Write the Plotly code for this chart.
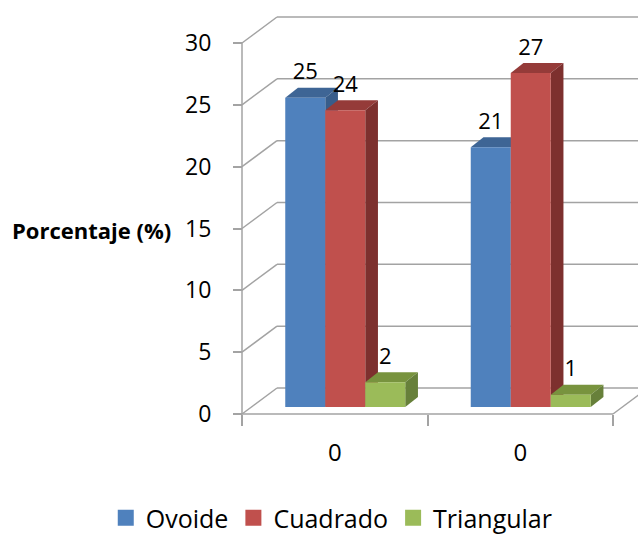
import plotly.graph_objects as go

# ---------------- data ----------------
categories = ["0", "0"]
series_names = ["Ovoide", "Cuadrado", "Triangular"]
ovoide = [25, 21]
cuadrado = [24, 27]
triangular = [2, 1]
y_ticks = [0, 5, 10, 15, 20, 25, 30]
y_title = "Porcentaje (%)"

series_values = [ovoide, cuadrado, triangular]

# ---------------- style ----------------
front_colors = ["#4F81BD", "#C0504D", "#9BBB59"]
top_colors = ["#3E6595", "#953B39", "#78933E"]
side_colors = ["#385D8A", "#7D302E", "#67803A"]
grid_color = "#A3A3A3"
FONT = "Open Sans"

W, H = 638, 541
x0px, cat_px = 242.0, 185.5          # front axis left edge, pixels per category
y0px, unit_px = 414.0, 371.0 / 30.0  # front axis zero, pixels per unit
wall_dx, wall_dy = 35.0, 26.0        # depth of the back wall (px)
plane_dx, plane_dy = 10.5, 7.0       # bars' front plane offset (px)
bar_dx, bar_dy = 12.7, 10.0          # bar depth (px)
bar_w_px = 40.0
label_gap_px = 24.0

# axis ranges so that the subplot covers the whole figure
xr = [-0.5 - x0px / cat_px, -0.5 + (W - x0px) / cat_px]
yr = [-(H - y0px) / unit_px, y0px / unit_px]
sx, sy = plane_dx / cat_px, plane_dy / unit_px
xr2 = [xr[0] - sx, xr[1] - sx]
yr2 = [yr[0] - sy, yr[1] - sy]

wdx, wdy = wall_dx / cat_px, wall_dy / unit_px
bdx, bdy = bar_dx / cat_px, bar_dy / unit_px
bw = bar_w_px / cat_px
ncat = len(categories)
xs = list(range(ncat))

fig = go.Figure()

# ---------------- wall / floor lines ----------------
shapes = []
line = dict(color=grid_color, width=1.5)
for v in y_ticks:
    shapes.append(dict(type="line", xref="x", yref="y", x0=-0.5, y0=v,
                       x1=-0.5 + wdx, y1=v + wdy, line=line, layer="below"))
    shapes.append(dict(type="line", xref="x", yref="y", x0=-0.5 + wdx, y0=v + wdy,
                       x1=xr[1] + 1, y1=v + wdy, line=line, layer="below"))
shapes.append(dict(type="line", xref="x", yref="y", x0=-0.5, y0=0, x1=-0.5, y1=y_ticks[-1],
                   line=line, layer="below"))
shapes.append(dict(type="line", xref="x", yref="y", x0=-0.5, y0=0, x1=ncat - 0.5, y1=0,
                   line=line, layer="below"))
shapes.append(dict(type="line", xref="x", yref="y", x0=ncat - 0.5, y0=0,
                   x1=ncat - 0.5 + wdx, y1=wdy, line=line, layer="below"))

# ---------------- bar faces (tops and sides) ----------------
def fmt(a, b):
    return f"{a:.5f},{b:.5f}"

for c in xs:
    for i, vals in enumerate(series_values):
        v = vals[c]
        xl = c - 1.5 * bw + i * bw
        xrr = xl + bw
        top = ("M" + fmt(xl, v) + " L" + fmt(xrr, v) + " L" + fmt(xrr + bdx, v + bdy)
               + " L" + fmt(xl + bdx, v + bdy) + " Z")
        side = ("M" + fmt(xrr, 0) + " L" + fmt(xrr + bdx, bdy) + " L" + fmt(xrr + bdx, v + bdy)
                + " L" + fmt(xrr, v) + " Z")
        shapes.append(dict(type="path", xref="x2", yref="y2", path=top,
                           fillcolor=top_colors[i], line=dict(width=0), layer="below"))
        shapes.append(dict(type="path", xref="x2", yref="y2", path=side,
                           fillcolor=side_colors[i], line=dict(width=0), layer="below"))

# ---------------- bar fronts ----------------
for i, vals in enumerate(series_values):
    fig.add_trace(go.Bar(
        x=xs, y=vals, width=bw, offset=-1.5 * bw + i * bw,
        xaxis="x2", yaxis="y2",
        marker=dict(color=front_colors[i], line=dict(width=0)),
        showlegend=False, hoverinfo="skip", name=series_names[i]))

# ---------------- data labels ----------------
for i, vals in enumerate(series_values):
    fig.add_trace(go.Scatter(
        x=[c - 1.5 * bw + i * bw + bw / 2 for c in xs],
        y=[v + label_gap_px / unit_px for v in vals],
        text=[str(v) for v in vals], mode="text", textposition="middle center",
        textfont=dict(family=FONT, size=22, color="#000000"),
        xaxis="x2", yaxis="y2", showlegend=False, hoverinfo="skip"))

# ---------------- legend entries ----------------
for i, name in enumerate(series_names):
    fig.add_trace(go.Scatter(
        x=[None], y=[None], mode="markers", name=name,
        marker=dict(symbol="square", size=16, color=front_colors[i]),
        xaxis="x", yaxis="y", showlegend=True))

# dummy trace so the category-label axis is drawn
fig.add_trace(go.Scatter(x=[None], y=[None], xaxis="x3", yaxis="y",
                         mode="markers", showlegend=False, hoverinfo="skip"))

xpos = (H - y0px) / H
ypos = x0px / W

fig.update_layout(
    width=W, height=H,
    margin=dict(l=0, r=0, t=0, b=0, autoexpand=False),
    paper_bgcolor="white", plot_bgcolor="white",
    font=dict(family=FONT, size=23, color="#000000"),
    shapes=shapes,
    xaxis=dict(domain=[0, 1], range=xr, anchor="free", position=xpos,
               tickmode="array", tickvals=[k - 0.5 for k in range(ncat + 1)],
               ticktext=["" for _ in range(ncat + 1)],
               ticks="outside", ticklen=11, tickwidth=1.5, tickcolor=grid_color,
               showgrid=False, zeroline=False, showline=False, fixedrange=True),
    xaxis3=dict(overlaying="x", range=xr, anchor="free", position=xpos,
                tickmode="array", tickvals=xs, ticktext=categories,
                ticks="", ticklabelstandoff=22, tickfont=dict(family=FONT, size=24),
                showgrid=False, zeroline=False, showline=False),
    xaxis2=dict(overlaying="x", range=xr2, visible=False),
    yaxis=dict(domain=[0, 1], range=yr, anchor="free", position=ypos,
               tickmode="array", tickvals=y_ticks,
               ticks="outside", ticklen=9, tickwidth=1.5, tickcolor=grid_color,
               ticklabelstandoff=17, tickfont=dict(family=FONT, size=23),
               showgrid=False, zeroline=False, showline=False, fixedrange=True),
    yaxis2=dict(overlaying="y", range=yr2, visible=False),
    legend=dict(orientation="h", x=0.52, xanchor="center",
                y=0, yanchor="bottom",
                font=dict(family=FONT, size=25), bgcolor="rgba(0,0,0,0)"),
    annotations=[dict(text="<b>" + y_title + "</b>", xref="paper", yref="paper",
                      x=10 / W, y=(H - 230) / H, xanchor="left", yanchor="middle",
                      showarrow=False, font=dict(family=FONT, size=22, color="#000000"))],
)

fig.write_html("out.html")
